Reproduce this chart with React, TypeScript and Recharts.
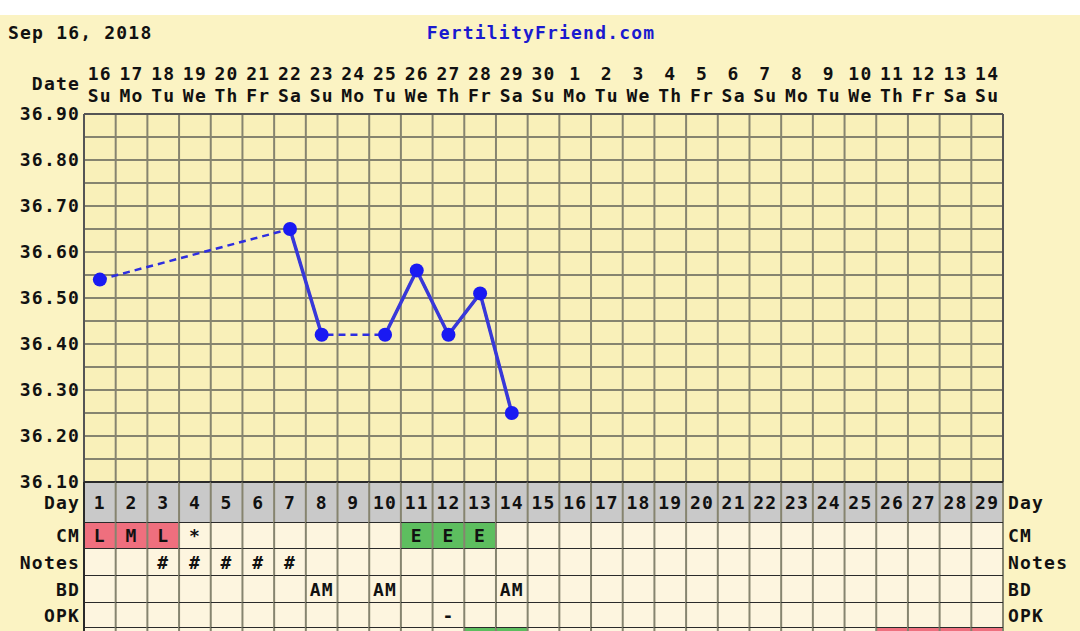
import React from 'react';
import { ComposedChart, Line, XAxis, YAxis, CartesianGrid } from 'recharts';

const FONT = '"DejaVu Sans Mono", "Liberation Mono", monospace';

const dates = ['16','17','18','19','20','21','22','23','24','25','26','27','28','29','30','1','2','3','4','5','6','7','8','9','10','11','12','13','14'];
const weekdays = ['Su','Mo','Tu','We','Th','Fr','Sa','Su','Mo','Tu','We','Th','Fr','Sa','Su','Mo','Tu','We','Th','Fr','Sa','Su','Mo','Tu','We','Th','Fr','Sa','Su'];
const cycleDays = ['1','2','3','4','5','6','7','8','9','10','11','12','13','14','15','16','17','18','19','20','21','22','23','24','25','26','27','28','29'];
const temps: (number | null)[] = [36.54, null, null, null, null, null, 36.65, 36.42, null, 36.42, 36.56, 36.42, 36.51, 36.25, null, null, null, null, null, null, null, null, null, null, null, null, null, null, null];
const cmValues = ['L','M','L','*','','','','','','','E','E','E','','','','','','','','','','','','','','','',''];
const cmColors = ['pink','pink','pink','','','','','','','','green','green','green','','','','','','','','','','','','','','','',''];
const notesValues = ['','','#','#','#','#','#','','','','','','','','','','','','','','','','','','','','','',''];
const bdValues = ['','','','','','','','AM','','AM','','','','AM','','','','','','','','','','','','','','',''];
const opkValues = ['','','','','','','','','','','','-','','','','','','','','','','','','','','','','',''];
const extraColors = ['','','','','','','','','','','','','green','green','','','','','','','','','','','','pink','pink','pink','pink'];
const yTicks = [36.10, 36.15, 36.20, 36.25, 36.30, 36.35, 36.40, 36.45, 36.50, 36.55, 36.60, 36.65, 36.70, 36.75, 36.80, 36.85, 36.90];

const COLS = dates.length;
const data = dates.map((d, i) => ({ x: i + 0.5, temp: temps[i] }));
const centers = data.map((d) => d.x);
const boundaries = [...dates.map((_, i) => i), COLS];

const COLORS: Record<string, string> = { pink: '#EF6F7E', green: '#5DBE5F', '': '#FDF5DF' };
const GRID = '#86846F';
const DARK = '#2A2A2A';

const txt: React.CSSProperties = {
  fontFamily: FONT,
  fontWeight: 700,
  fontSize: 18,
  letterSpacing: 1.2,
  fill: '#111',
};

const makeYTick = (side: 'left' | 'right') => (props: any) => {
  const { x, y, payload } = props;
  const v = Number(payload.value);
  const show = Math.round(v * 100) % 10 === 0;
  if (!show) return <g />;
  return (
    <text
      x={side === 'left' ? x - 4 : x + 5}
      y={y}
      dy="0.36em"
      textAnchor={side === 'left' ? 'end' : 'start'}
      style={txt}
    >
      {v.toFixed(2)}
    </text>
  );
};

const DateTick = (props: any) => {
  const { x, y, index } = props;
  const cw = (props.width ?? 919) / COLS;
  return (
    <g>
      <text x={x} y={y - 40} dy="0.36em" textAnchor="middle" style={txt}>{dates[index]}</text>
      <text x={x} y={y - 18} dy="0.36em" textAnchor="middle" style={txt}>{weekdays[index]}</text>
      {index === 0 && (
        <text x={x - cw / 2 - 4} y={y - 30} dy="0.36em" textAnchor="end" style={txt}>Date</text>
      )}
    </g>
  );
};

type RowKind = 'day' | 'cm' | 'notes' | 'bd' | 'opk' | 'extra';

const makeRowTick = (kind: RowKind, rowH: number, label: string) => (props: any) => {
  const { x, y, index } = props;
  const cw = (props.width ?? 919) / COLS;
  const x0 = x - cw / 2;
  let fill = COLORS[''];
  let text = '';
  if (kind === 'day') {
    fill = '#C9C9C9';
    text = cycleDays[index];
  } else if (kind === 'cm') {
    fill = COLORS[cmColors[index]];
    text = cmValues[index];
  } else if (kind === 'notes') {
    text = notesValues[index];
  } else if (kind === 'bd') {
    text = bdValues[index];
  } else if (kind === 'opk') {
    text = opkValues[index];
  } else if (kind === 'extra') {
    fill = COLORS[extraColors[index]];
  }
  return (
    <g>
      <rect x={x0} y={y} width={cw} height={rowH} fill={fill} />
      <line x1={x0} x2={x0} y1={y} y2={y + rowH} stroke={index === 0 ? DARK : GRID} strokeWidth={2} />
      {index === COLS - 1 && (
        <line x1={x0 + cw} x2={x0 + cw} y1={y} y2={y + rowH} stroke={GRID} strokeWidth={2} />
      )}
      {kind === 'day' && <line x1={x0} x2={x0 + cw} y1={y} y2={y} stroke={DARK} strokeWidth={2} />}
      <line x1={x0} x2={x0 + cw} y1={y + rowH} y2={y + rowH} stroke={DARK} strokeWidth={2} />
      {text && (
        <text x={x} y={y + rowH / 2} dy="0.36em" textAnchor="middle" style={txt}>{text}</text>
      )}
      {index === 0 && label && (
        <text x={x0 - 4} y={y + rowH / 2} dy="0.36em" textAnchor="end" style={txt}>{label}</text>
      )}
      {index === COLS - 1 && label && (
        <text x={x0 + cw + 5} y={y + rowH / 2} dy="0.36em" textAnchor="start" style={txt}>{label}</text>
      )}
    </g>
  );
};

const rows: { id: string; kind: RowKind; h: number; label: string }[] = [
  { id: 'r0_day', kind: 'day', h: 41, label: 'Day' },
  { id: 'r1_cm', kind: 'cm', h: 26, label: 'CM' },
  { id: 'r2_notes', kind: 'notes', h: 27, label: 'Notes' },
  { id: 'r3_bd', kind: 'bd', h: 27, label: 'BD' },
  { id: 'r4_opk', kind: 'opk', h: 25, label: 'OPK' },
  { id: 'r5_extra', kind: 'extra', h: 27, label: '' },
];

export default function App() {
  return (
    <div
      style={{
        position: 'absolute',
        left: 0,
        top: 0,
        width: 1080,
        height: 631,
        overflow: 'hidden',
        background: '#FFFFFF',
      }}
    >
      <div style={{ position: 'absolute', left: 0, top: 15, width: 1080, height: 640, background: '#FBF3C3' }} />
      <div
        style={{
          position: 'absolute',
          left: 8,
          top: 21,
          fontFamily: FONT,
          fontWeight: 700,
          fontSize: 18,
          letterSpacing: 1.2,
          color: '#111',
          lineHeight: '24px',
        }}
      >
        Sep 16, 2018
      </div>
      <div
        style={{
          position: 'absolute',
          left: 0,
          width: 1082,
          top: 21,
          textAlign: 'center',
          fontFamily: FONT,
          fontWeight: 700,
          fontSize: 18,
          letterSpacing: 1.2,
          color: '#1A1ACF',
          lineHeight: '24px',
        }}
      >
        FertilityFriend.com
      </div>
      <div style={{ position: 'absolute', left: 0, top: 0 }}>
        <ComposedChart
          width={1080}
          height={655}
          data={data}
          margin={{ top: 54, right: 0, bottom: 0, left: 0 }}
        >
          <CartesianGrid
            xAxisId="grid"
            yAxisId="left"
            stroke={GRID}
            strokeWidth={2}
            fill="#F9F0B9"
            fillOpacity={1}
          />
          <XAxis
            xAxisId="grid"
            type="number"
            dataKey="x"
            domain={[0, COLS]}
            ticks={boundaries}
            height={0}
            hide
          />
          <XAxis
            xAxisId="top"
            orientation="top"
            type="number"
            dataKey="x"
            domain={[0, COLS]}
            ticks={centers}
            interval={0}
            height={60}
            tickSize={0}
            tickMargin={0}
            tickLine={false}
            axisLine={{ stroke: '#555', strokeWidth: 2 }}
            tick={DateTick}
          />
          {rows.map((r) => (
            <XAxis
              key={r.id}
              xAxisId={r.id}
              orientation="bottom"
              type="number"
              dataKey="x"
              domain={[0, COLS]}
              ticks={centers}
              interval={0}
              height={r.h}
              tickSize={0}
              tickMargin={0}
              tickLine={false}
              axisLine={false}
              tick={makeRowTick(r.kind, r.h, r.label)}
            />
          ))}
          <YAxis
            yAxisId="left"
            orientation="left"
            type="number"
            domain={[36.1, 36.9]}
            ticks={yTicks}
            interval={0}
            width={84}
            tickSize={0}
            tickMargin={0}
            tickLine={false}
            axisLine={{ stroke: '#555', strokeWidth: 2 }}
            tick={makeYTick('left')}
          />
          <YAxis
            yAxisId="right"
            orientation="right"
            type="number"
            domain={[36.1, 36.9]}
            ticks={yTicks}
            interval={0}
            width={77}
            tickSize={0}
            tickMargin={0}
            tickLine={false}
            axisLine={{ stroke: '#555', strokeWidth: 2 }}
            tick={makeYTick('right')}
          />
          <Line
            xAxisId="top"
            yAxisId="left"
            dataKey="temp"
            type="linear"
            connectNulls
            stroke="#2E2EE0"
            strokeWidth={2.5}
            strokeDasharray="7 5"
            dot={false}
            activeDot={false}
            isAnimationActive={false}
          />
          <Line
            xAxisId="top"
            yAxisId="left"
            dataKey="temp"
            type="linear"
            connectNulls={false}
            stroke="#3838D8"
            strokeWidth={3.5}
            dot={{ r: 7, fill: '#1A1AF2', stroke: '#1A1AF2', strokeWidth: 0 }}
            activeDot={false}
            isAnimationActive={false}
          />
        </ComposedChart>
      </div>
    </div>
  );
}
